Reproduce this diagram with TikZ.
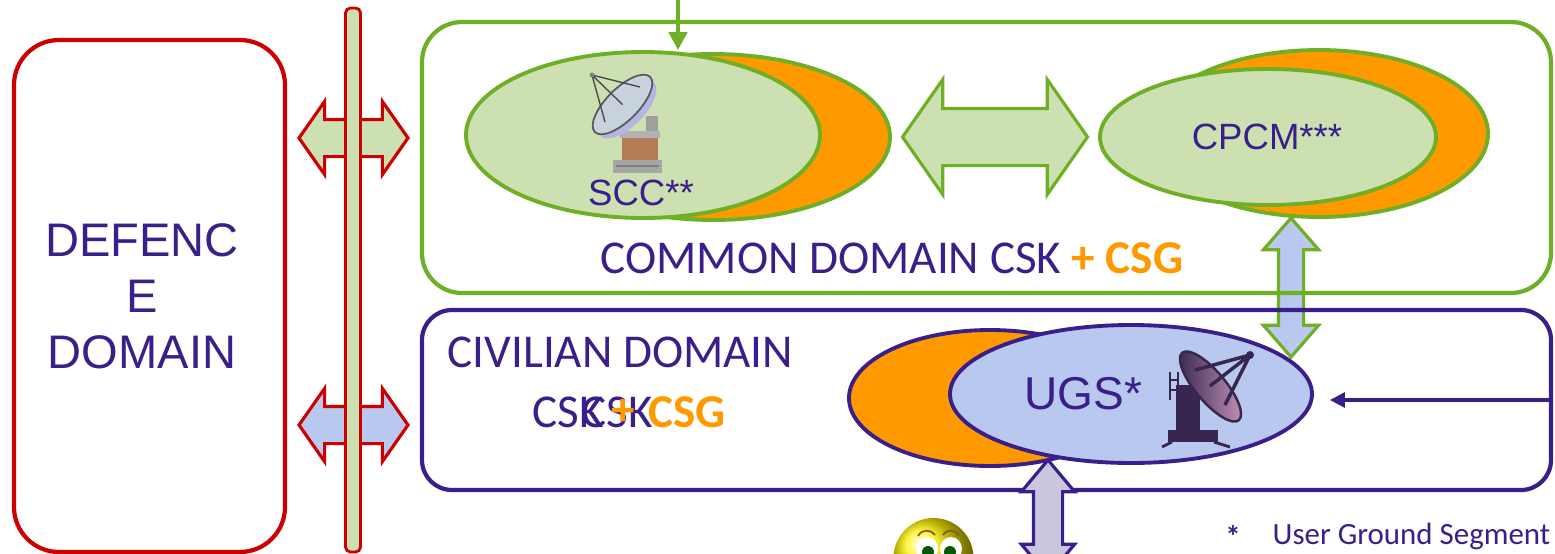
\documentclass[tikz,border=0pt]{standalone}
\usepackage{fontspec}
\setmainfont{Liberation Sans}
\newfontfamily\slidefont{Carlito}
\usetikzlibrary{shapes.geometric,shapes.arrows,arrows.meta,calc}

\definecolor{dompurple}{RGB}{58,30,138}
\definecolor{domgreen}{RGB}{110,175,38}
\definecolor{lightgreen}{RGB}{205,224,178}
\definecolor{lightblue}{RGB}{185,200,238}
\definecolor{csgorange}{RGB}{255,153,0}
\definecolor{defred}{RGB}{204,0,0}
\definecolor{lavender}{RGB}{202,198,222}
\definecolor{dishpurple}{RGB}{55,38,80}
\definecolor{dishgray}{RGB}{200,210,220}
\definecolor{towerbrown}{RGB}{180,125,85}

\tikzset{
  domainbox/.style={draw, line width=1.2pt, rounded corners=0.4cm, inner sep=0pt},
  station/.style={ellipse, draw, line width=1.1pt, inner sep=0pt},
  bigarrow/.style={double arrow, draw, line width=0.9pt, inner xsep=0pt,
    double arrow head indent=0pt},
  domtext/.style={text=dompurple, inner sep=0pt, font=\slidefont\fontsize{13.4}{16}\selectfont},
  stattext/.style={text=dompurple, inner sep=0pt, font=\fontsize{10.4}{12}\selectfont},
}

\begin{document}
\begin{tikzpicture}
  \useasboundingbox (0,0) rectangle (15.55,-5.54);

  % defence domain
  \node[domainbox, draw=defred, rounded corners=0.45cm, minimum width=2.71cm, minimum height=5.12cm] (defence) at (1.495,-2.96) {};
  \node[text=dompurple, align=center, font=\fontsize{13.4}{15.9}\selectfont] (defencetext) at (1.42,-2.96) {DEFENC\\E\\DOMAIN};

  % links to the defence side, then the bus bar on top
  \node[bigarrow, draw=defred, fill=lightgreen, minimum height=1.09cm, minimum width=0.70cm,
        inner ysep=0.17cm, double arrow head extend=0.18cm, double arrow tip angle=110] (defcommon) at (3.535,-1.38) {};
  \node[bigarrow, draw=defred, fill=lightblue, minimum height=1.09cm, minimum width=0.70cm,
        inner ysep=0.17cm, double arrow head extend=0.18cm, double arrow tip angle=110] (defcivil) at (3.535,-4.25) {};
  \node[draw=defred, fill=lightgreen, line width=0.8pt, rounded corners=0.05cm, inner sep=0pt,
        minimum width=0.15cm, minimum height=5.44cm] (bus) at (3.53,-2.80) {};

  % ground segments
  \node[station, draw=domgreen, fill=csgorange, minimum width=3.54cm, minimum height=1.66cm] (sccback) at (7.13,-1.37) {};
  \node[station, draw=domgreen, fill=lightgreen, minimum width=3.54cm, minimum height=1.66cm] (scc) at (6.43,-1.35) {};
  \node[station, draw=domgreen, fill=csgorange, minimum width=3.38cm, minimum height=1.67cm] (cpcmback) at (13.19,-1.335) {};
  \node[station, draw=domgreen, fill=lightgreen, minimum width=3.36cm, minimum height=1.36cm] (cpcm) at (12.68,-1.37) {};
  \node[station, draw=dompurple, fill=csgorange, minimum width=2.82cm, minimum height=1.36cm] (ugsback) at (9.90,-3.98) {};
  \node[station, draw=dompurple, fill=lightblue, minimum width=3.62cm, minimum height=1.38cm] (ugs) at (11.31,-3.94) {};

  \node[stattext] (scclabel) at (6.41,-1.93) {SCC**};
  \node[stattext] (cpcmlabel) at (12.67,-1.365) {CPCM***};
  \node[stattext, font=\fontsize{13.1}{15}\selectfont] (ugslabel) at (10.835,-3.94) {UGS*};

  % SCC antenna
  \fill[gray!70] (6.13,-1.60) rectangle (6.62,-1.73);
  \draw[gray, line width=0.4pt] (6.16,-1.66) -- (6.59,-1.66);
  \fill[towerbrown] (6.22,-1.37) rectangle (6.58,-1.60);
  \fill[gray!60] (6.20,-1.31) rectangle (6.60,-1.38);
  \fill[gray!75] (6.46,-1.16) rectangle (6.58,-1.31);
  \fill[gray!55!blue!40, rotate around={45:(6.27,-1.09)}] (6.27,-1.09) ellipse (0.38cm and 0.17cm);
  \draw[gray!70!black, fill=dishgray, line width=0.5pt, rotate around={45:(6.225,-1.045)}] (6.225,-1.045) ellipse (0.39cm and 0.16cm);
  \draw[gray!60!black, line width=0.4pt] (5.92,-0.75) -- (6.225,-1.045)
    (5.92,-0.75) -- (6.05,-1.22) (5.92,-0.75) -- (6.40,-0.87);
  \fill[gray] (5.92,-0.75) circle (0.025cm);

  % UGS antenna
  \fill[dishpurple] (11.76,-3.85) rectangle (12.00,-4.30);
  \draw[dishpurple, line width=0.6pt] (11.70,-3.72) -- (11.70,-4.00) (11.78,-3.72) -- (11.78,-4.00)
    (11.70,-3.80) -- (11.78,-3.80) (11.70,-3.90) -- (11.78,-3.90);
  \fill[dishpurple] (11.68,-4.30) rectangle (12.18,-4.42);
  \draw[dishpurple, line width=0.8pt] (11.72,-4.42) -- (11.62,-4.47) (12.14,-4.42) -- (12.30,-4.47);
  \shade[left color=dishpurple, right color=purple!25!lavender, draw=dishpurple, line width=0.7pt,
         rotate around={-50:(12.105,-3.865)}] (12.105,-3.865) ellipse (0.44cm and 0.15cm);
  \draw[dishpurple, line width=1pt] (12.50,-3.55) -- (12.10,-3.86)
    (12.50,-3.55) -- (11.95,-3.70) (12.50,-3.55) -- (12.25,-4.05);
  \fill[dishpurple] (12.50,-3.55) circle (0.04cm);

  % links between segments
  \node[bigarrow, draw=domgreen, fill=lightgreen, minimum height=1.85cm, minimum width=1.12cm,
        inner ysep=0.27cm, double arrow head extend=0.29cm, double arrow tip angle=110]
        (scccpcm) at ($(sccback.east)!0.5!(cpcm.west)$) {};
  \node[bigarrow, draw=domgreen, fill=lightblue, rotate=90, minimum height=1.39cm, minimum width=0.52cm,
        inner ysep=0.11cm, double arrow head extend=0.15cm, double arrow tip angle=82] (cpcmugs) at (12.91,-2.875) {};

  % common and civilian domains
  \node[domainbox, draw=domgreen, minimum width=11.29cm, minimum height=2.71cm] (common) at (9.865,-1.575) {};
  \node[domainbox, draw=dompurple, rounded corners=0.3cm, minimum width=11.29cm, minimum height=1.80cm] (civil) at (9.865,-4.00) {};

  \node[domtext] (commontext) at (8.92,-2.58) {COMMON DOMAIN CSK \textcolor{csgorange}{\bfseries + CSG}};
  \node[domtext, anchor=west] (civiltext) at (4.47,-3.52) {CIVILIAN DOMAIN};
  \node[domtext, anchor=west] (csk) at (5.32,-4.12) {CSK};
  \node[domtext, anchor=west] (cskb) at (5.81,-4.12) {CSK};
  \node[domtext, text=csgorange, font=\slidefont\bfseries\fontsize{13.4}{16}\selectfont] (plus) at (6.235,-4.12) {+};
  \node[domtext, anchor=west, text=csgorange, font=\slidefont\bfseries\fontsize{13.4}{16}\selectfont] (csg) at (6.48,-4.12) {CSG};

  % external feeds
  \coordinate (sccin) at (6.78,0.05);
  \draw[domgreen, line width=1.4pt, -{Triangle[length=0.18cm,width=0.18cm]}] (sccin) -- (sccin |- scc.north);
  \draw[dompurple, line width=0.9pt, -{Triangle[length=0.15cm,width=0.15cm]}, shorten >=0.16cm]
    (civil.east) -- (civil.east -| ugs.east);
  \node[bigarrow, draw=dompurple, fill=lavender, rotate=90, minimum height=1.16cm, minimum width=0.50cm,
        inner ysep=0.13cm, double arrow head extend=0.12cm, double arrow tip angle=80] (ugsout) at (10.48,-5.18) {};

  % smiley
  \shade[ball color=yellow!90!orange] (9.335,-5.58) circle (0.40cm);
  \fill[white] (9.27,-5.49) ellipse (0.11cm and 0.12cm);
  \fill[white] (9.51,-5.49) ellipse (0.11cm and 0.12cm);
  \fill[green!35!black] (9.28,-5.52) circle (0.06cm);
  \fill[green!35!black] (9.50,-5.52) circle (0.06cm);
  \draw[brown!70!black, line width=0.5pt] (9.18,-5.36) .. controls (9.22,-5.29) and (9.30,-5.29) .. (9.35,-5.35);
  \draw[brown!70!black, line width=0.5pt] (9.43,-5.35) .. controls (9.47,-5.29) and (9.55,-5.29) .. (9.59,-5.36);

  % footnote
  \node[text=dompurple, font=\slidefont\bfseries\fontsize{8.8}{10}\selectfont] (star) at (12.33,-5.36) {*};
  \node[text=dompurple, anchor=west, inner sep=0pt, font=\slidefont\fontsize{8.8}{10}\selectfont] (note) at (12.72,-5.36) {User Ground Segment};
\end{tikzpicture}
\end{document}
